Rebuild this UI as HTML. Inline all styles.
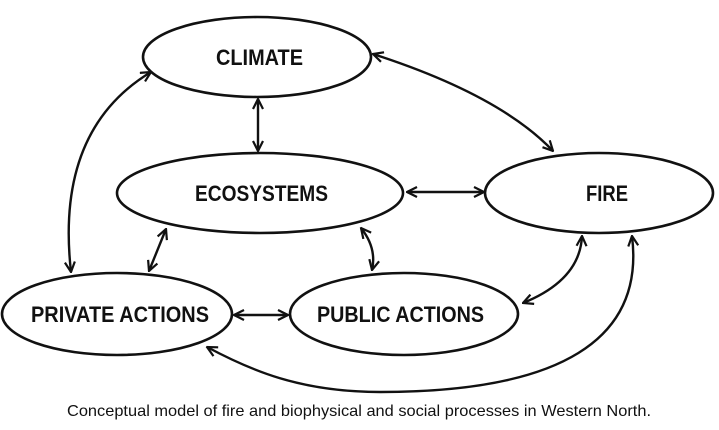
<!DOCTYPE html>
<html><head><meta charset="utf-8"><style>
html,body{margin:0;padding:0;background:#fff;}
svg{display:block;}
.t{font-family:"Liberation Sans",sans-serif;font-weight:bold;font-size:22px;fill:#111;}
.c{font-family:"Liberation Sans",sans-serif;font-size:16px;fill:#111;}
</style></head><body>
<svg width="719" height="430" viewBox="0 0 719 430" xmlns="http://www.w3.org/2000/svg">
<defs>
<marker id="a" viewBox="0 0 12 12" refX="11" refY="6" markerWidth="12" markerHeight="12" markerUnits="userSpaceOnUse" orient="auto-start-reverse">
<polyline points="1,1 11,6 1,11" fill="none" stroke="#111" stroke-width="2.2"/>
</marker>
</defs>
<g fill="none" stroke="#111" stroke-width="2.6">
<ellipse cx="257" cy="57" rx="114" ry="40"/>
<ellipse cx="260" cy="193" rx="143" ry="40"/>
<ellipse cx="599" cy="193" rx="114" ry="40"/>
<ellipse cx="117" cy="314" rx="115" ry="41"/>
<ellipse cx="404" cy="314" rx="114" ry="41"/>
</g>
<g fill="none" stroke="#111" stroke-width="2.4" marker-start="url(#a)" marker-end="url(#a)">
<path d="M258 99 L258 151"/>
<path d="M373 54 Q500 95 553 151"/>
<path d="M151 72 Q55 130 71 272"/>
<path d="M407 192 L484 192"/>
<path d="M166 229 L149 271"/>
<path d="M361 228 Q377 248 372 270"/>
<path d="M582 236 Q580 280 523 303"/>
<path d="M234 315 L288 315"/>
<path d="M632 236 C645 340 560 392 380 392 C300 392 250 370 207 347"/>
</g>
<text class="t" x="216" y="65" textLength="87" lengthAdjust="spacingAndGlyphs">CLIMATE</text>
<text class="t" x="195" y="201" textLength="133" lengthAdjust="spacingAndGlyphs">ECOSYSTEMS</text>
<text class="t" x="586" y="201" textLength="42" lengthAdjust="spacingAndGlyphs">FIRE</text>
<text class="t" x="31" y="322" textLength="178" lengthAdjust="spacingAndGlyphs">PRIVATE ACTIONS</text>
<text class="t" x="317" y="322" textLength="167" lengthAdjust="spacingAndGlyphs">PUBLIC ACTIONS</text>
<text class="c" x="67" y="416" textLength="584" lengthAdjust="spacingAndGlyphs">Conceptual model of fire and biophysical and social processes in Western North.</text>
</svg>
</body></html>
